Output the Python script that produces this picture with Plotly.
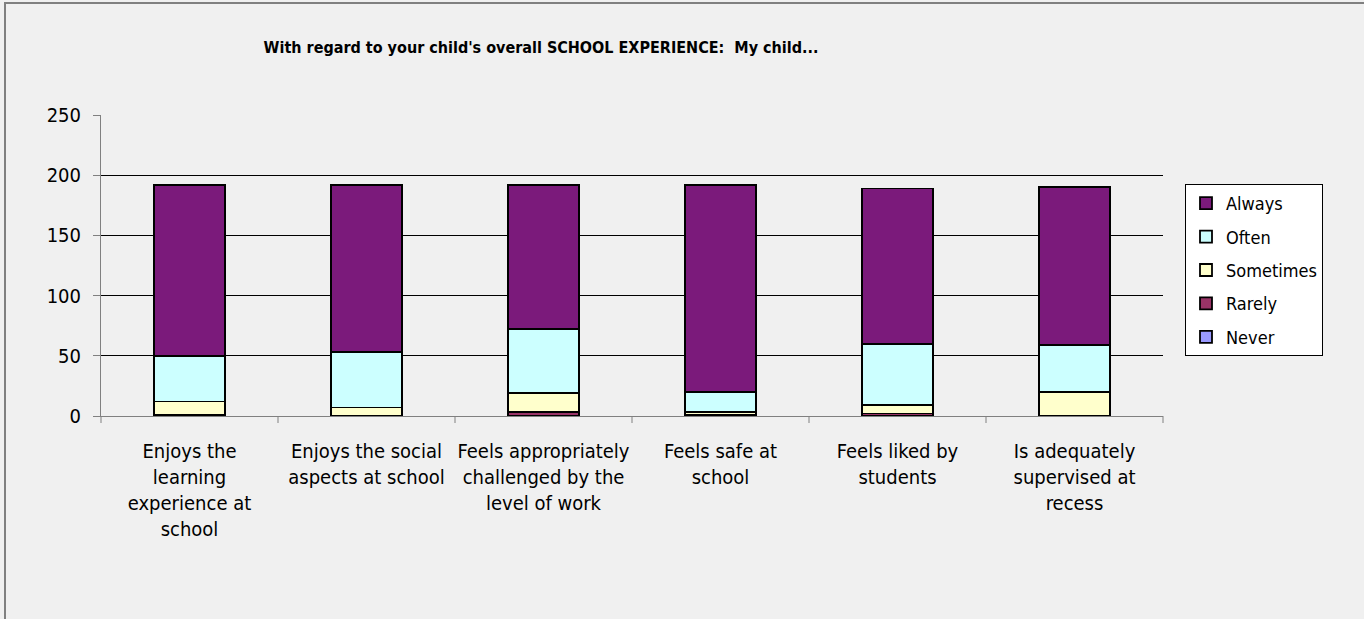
import plotly.graph_objects as go

categories = [
    "Enjoys the<br>learning<br>experience at<br>school",
    "Enjoys the social<br>aspects at school",
    "Feels appropriately<br>challenged by the<br>level of work",
    "Feels safe at<br>school",
    "Feels liked by<br>students",
    "Is adequately<br>supervised at<br>recess",
]
never = [0, 0, 0, 0, 0, 0]
rarely = [1, 0, 3, 1, 2, 0]
sometimes = [11, 7, 16, 2, 7, 20]
often = [38, 46, 53, 17, 51, 39]
always = [142, 139, 120, 172, 129, 131]

series_names = ["Never", "Rarely", "Sometimes", "Often", "Always"]
series_values = [never, rarely, sometimes, often, always]
series_colors = ["#9999FF", "#993366", "#FFFFCC", "#CCFFFF", "#7B1A7B"]
legend_ranks = [5, 4, 3, 2, 1]

y_ticks = [0, 50, 100, 150, 200, 250]

FONT = "DejaVu Sans Condensed, Tahoma, Verdana, sans-serif"

fig = go.Figure()
for name, vals, col, rk in zip(series_names, series_values, series_colors, legend_ranks):
    fig.add_trace(go.Bar(
        x=categories, y=vals, name=name, legendgroup=name, legendrank=rk,
        marker=dict(color=col, line=dict(color="black", width=1.8)),
        width=0.4,
    ))

W, H = 1364, 619
L, R, T, B = 101, 201, 115, 203
pw, ph = W - L - R, H - T - B

fig.update_layout(
    width=W, height=H,
    barmode="stack",
    paper_bgcolor="#f0f0f0",
    plot_bgcolor="#f0f0f0",
    margin=dict(l=L, r=R, t=T, b=B, autoexpand=False),
    font=dict(family=FONT, size=20, color="black"),
    title=dict(
        text="<b>With regard to your child's overall SCHOOL EXPERIENCE:  My child...</b>",
        x=541 / W, xanchor="center", y=1 - 47 / H, yanchor="middle",
        font=dict(size=16, family=FONT),
    ),
    legend=dict(
        traceorder="grouped",
        tracegroupgap=7,
        x=(1185 - L) / pw, xanchor="left",
        y=(H - B - 184) / ph, yanchor="top",
        bgcolor="white", bordercolor="black", borderwidth=1,
        font=dict(size=18, family=FONT),
        itemwidth=30,
        entrywidth=130,
    ),
    showlegend=True,
)
fig.update_xaxes(
    showline=True, linecolor="#808080", linewidth=1,
    ticks="outside", ticklen=1, tickcolor="rgba(0,0,0,0)",
    ticklabelstandoff=16,
    showgrid=False,
    tickfont=dict(size=20),
)
fig.update_yaxes(
    range=[0, 250], tickvals=y_ticks,
    showline=True, linecolor="#808080", linewidth=1,
    ticks="outside", ticklen=7, tickcolor="#808080",
    ticklabelstandoff=8,
    showgrid=True, gridcolor="black", gridwidth=1,
    zeroline=False,
    tickfont=dict(size=20),
)

# category boundary tick marks under the x axis
n = len(categories)
for i in range(n + 1):
    fig.add_shape(type="line", xref="paper", yref="paper",
                  x0=i / n, x1=i / n, y0=0, y1=-7 / ph,
                  line=dict(color="#808080", width=1))

# outer chart-area frame
fig.add_shape(type="rect", xref="paper", yref="paper",
              x0=(5 - L) / pw, x1=(W + 20 - L) / pw,
              y0=(H - B - (H + 20)) / ph, y1=(H - B - 3) / ph,
              line=dict(color="#808080", width=2), layer="below")

fig.write_html("out.html", config={"displayModeBar": False},
               post_script="document.body.style.margin='0px';")
